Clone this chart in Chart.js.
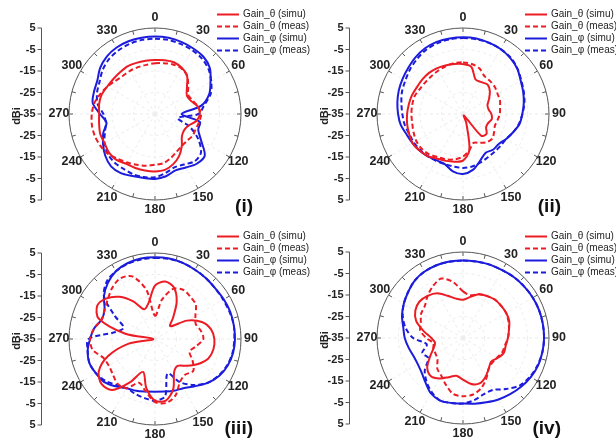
<!DOCTYPE html>
<html>
<head>
<meta charset="utf-8">
<script src="https://cdn.jsdelivr.net/npm/chart.js@4.4.1/dist/chart.umd.min.js"></script>
<style>
  body { margin: 0; background: #fff; }
  #wrap { position: relative; width: 616px; height: 444px; overflow: hidden; }
  canvas { position: absolute; }
</style>
</head>
<body>
<div id="wrap">
  <canvas id="p1" width="316" height="222" style="left:0;top:0"></canvas>
  <canvas id="p2" width="316" height="222" style="left:308px;top:0"></canvas>
  <canvas id="p3" width="316" height="222" style="left:0;top:222px"></canvas>
  <canvas id="p4" width="316" height="222" style="left:308px;top:222px"></canvas>
</div>
<script>
// azimuth samples (deg), clockwise from top
const angles = [0,10,20,30,40,50,60,70,80,90,100,110,120,130,140,150,160,170,
                180,190,200,210,220,230,240,250,260,270,280,290,300,310,320,330,340,350];
const angleLabels = [0,30,60,90,120,150,180,210,240,270,300,330];
const gainMin = -35, gainMax = 5, gainStep = 10;
const seriesNames = ['Gain_θ (simu)', 'Gain_θ (meas)', 'Gain_φ (simu)', 'Gain_φ (meas)'];
const panelTags = ['(i)', '(ii)', '(iii)', '(iv)'];

// (i)
const thetaSimu1 = [-9.9,-9.6,-9.4,-10.2,-11.8,-15.6,-17.9,-17.2,-14.8,-14.1,-15.6,-18.7,-19.5,-18.7,-15.6,-12.5,-10.2,-8.6,
                    -8.3,-8.3,-8.3,-8.3,-7.1,-7.1,-7.9,-7.9,-8.6,-9.0,-8.6,-8.6,-9.4,-9.7,-9.7,-9.4,-9.7,-9.9];
const thetaMeas1 = [-11.4,-11.0,-10.5,-10.5,-11.8,-14.8,-17.2,-16.4,-14.8,-13.6,-14.1,-14.8,-14.8,-15.6,-15.6,-14.8,-13.3,-11.8,
                    -11.4,-10.5,-9.9,-9.0,-7.9,-6.3,-5.6,-5.2,-5.2,-5.6,-6.3,-7.9,-9.4,-11.0,-11.8,-11.8,-11.8,-11.8];
const phiSimu1 = [1.0,1.0,0.7,0.3,-0.1,-1.7,-5.2,-8.2,-13.3,-22.6,-13.8,-13.6,-10.2,-4.8,-4.8,-6.3,-7.1,-5.6,
                  -4.8,-4.8,-4.3,-3.2,-3.2,-4.8,-7.1,-9.4,-12.1,-9.4,-5.6,-4.8,-4.0,-1.7,-0.1,0.7,1.0,1.0];
const phiMeas1 = [0.0,0.0,-0.3,-0.6,-1.2,-2.5,-4.8,-7.4,-11.8,-14.8,-24.2,-17.9,-11.8,-7.1,-6.3,-7.9,-8.6,-7.1,
                  -5.6,-5.2,-5.2,-5.6,-5.6,-6.3,-7.9,-10.2,-11.8,-11.0,-7.9,-6.3,-5.2,-3.2,-1.7,-0.9,-0.3,0.0];

// (ii)
const thetaSimu2 = [-11.8,-12.7,-17.9,-17.9,-17.2,-18.7,-21.0,-22.9,-22.9,-21.8,-21.4,-22.6,-22.6,-20.7,-21.8,-34.2,-30.4,-17.9,
                    -13.3,-12.5,-11.8,-11.0,-9.4,-8.6,-7.9,-8.3,-8.6,-9.0,-9.4,-9.7,-10.2,-10.2,-10.2,-10.5,-11.0,-11.4];
const thetaMeas2 = [-11.0,-11.4,-12.5,-14.8,-15.2,-15.6,-16.4,-16.7,-17.5,-17.9,-18.7,-19.2,-18.3,-17.2,-17.9,-19.5,-20.7,-17.9,
                    -15.2,-13.6,-12.5,-11.8,-10.5,-9.9,-9.9,-10.5,-11.0,-11.0,-11.0,-11.0,-11.8,-12.1,-12.1,-11.8,-11.4,-11.0];
const phiSimu2 = [0.7,0.7,0.3,-0.1,-0.9,-2.1,-4.0,-5.2,-6.3,-7.4,-8.3,-10.2,-11.8,-13.3,-13.3,-14.1,-11.8,-8.6,
                  -7.1,-7.9,-10.2,-10.2,-9.4,-8.6,-7.9,-7.1,-5.6,-4.8,-4.0,-3.2,-2.5,-1.7,-0.6,0.3,0.7,0.7];
const phiMeas2 = [0.3,0.3,0.2,-0.1,-0.6,-2.0,-3.7,-4.9,-6.0,-7.4,-8.6,-10.2,-11.8,-12.1,-12.1,-11.8,-11.0,-10.2,
                  -9.9,-10.2,-10.2,-9.9,-9.4,-9.0,-8.6,-8.3,-7.4,-6.8,-5.9,-4.8,-4.0,-2.8,-1.7,-0.6,0.0,0.3];

// (iii)
const thetaSimu3 = [-10.2,-7.9,-9.4,-14.8,-21.8,-25.7,-17.9,-11.8,-8.6,-7.4,-7.4,-8.6,-11.8,-15.6,-18.7,-17.2,-10.2,-5.9,
                    -6.3,-11.8,-18.7,-11.8,-4.0,-2.5,-4.8,-11.8,-22.6,-34.2,-21.0,-7.1,-4.0,-5.6,-9.4,-14.8,-20.3,-17.9];
const thetaMeas3 = [-24.2,-16.4,-10.2,-8.6,-9.4,-10.2,-13.3,-14.8,-13.3,-12.5,-15.6,-17.9,-14.8,-11.8,-13.3,-11.8,-7.1,-4.8,
                    -5.6,-10.2,-13.3,-8.6,-7.9,-9.4,-10.2,-9.4,-5.6,-4.8,-6.3,-8.6,-7.9,-6.3,-4.0,-2.5,-4.0,-11.8];
const phiSimu3 = [3.0,3.0,2.7,2.2,1.9,1.6,1.9,2.2,2.2,2.2,1.9,1.0,-0.6,-3.2,-6.3,-8.6,-9.4,-10.2,
                  -10.5,-10.2,-9.4,-8.6,-6.3,-4.0,-3.2,-2.5,-3.2,-4.8,-6.3,-8.6,-7.9,-4.0,-0.9,1.4,2.5,3.0];
const phiMeas3 = [2.7,2.8,2.7,2.2,1.9,1.6,1.6,1.9,2.2,1.9,1.6,0.7,-0.9,-3.2,-7.1,-11.8,-17.9,-7.9,
                  -6.3,-7.1,-7.9,-8.6,-7.1,-4.8,-3.2,-2.5,-3.2,-4.0,-16.4,-19.5,-13.3,-4.0,-0.1,1.4,2.2,2.5];

// (iv)
const thetaSimu4 = [-17.2,-15.6,-13.3,-12.5,-11.8,-11.8,-11.8,-12.1,-13.3,-14.1,-14.8,-14.8,-16.4,-17.9,-16.4,-14.1,-12.5,-13.3,
                    -15.6,-17.2,-15.6,-13.3,-11.8,-13.3,-17.2,-20.3,-21.8,-20.3,-16.4,-11.8,-9.4,-8.6,-9.4,-11.0,-14.1,-16.4];
const thetaMeas4 = [-13.3,-14.8,-13.3,-12.5,-11.8,-11.8,-11.8,-12.5,-13.3,-14.1,-15.2,-15.6,-16.7,-17.2,-16.4,-13.3,-10.2,-8.3,
                    -7.9,-8.6,-11.8,-14.8,-16.4,-19.5,-20.3,-20.3,-21.0,-17.9,-14.8,-14.1,-12.5,-11.8,-9.4,-7.1,-5.6,-8.6];
const phiSimu4 = [1.1,1.1,1.3,1.4,1.9,2.2,2.5,2.7,2.7,2.7,2.5,2.2,1.4,0.3,-0.9,-2.0,-3.2,-4.0,
                  -4.5,-4.3,-4.0,-5.2,-7.9,-9.9,-10.7,-10.5,-9.3,-7.9,-6.8,-4.8,-3.2,-1.7,-0.1,0.7,1.0,1.1];
const phiMeas4 = [1.0,1.1,1.3,1.4,1.9,2.2,2.5,2.7,2.7,2.7,2.5,1.9,1.0,-0.6,-4.0,-7.1,-7.1,-5.6,
                  -4.5,-4.3,-4.0,-5.9,-8.6,-11.8,-16.4,-14.8,-17.9,-11.8,-7.9,-5.2,-3.2,-1.7,-0.1,0.7,1.0,1.0];

const RED = '#ec1c24';
const BLUE = '#1c1cdc';
const TEXT = '#222';
const FONT = 'Arial, "Liberation Sans", sans-serif';

// rim ticks, angle numbers, the mirrored dBi axis, legend and panel tag
const polarFrame = {
  id: 'polarFrame',
  afterDraw(chart, args, opts) {
    const ctx = chart.ctx;
    const r = chart.scales.r;
    const R = r.drawingArea;
    const cx = r.xCenter, cy = r.yCenter;
    const step = 360 / angles.length;

    ctx.save();
    ctx.strokeStyle = '#555';
    ctx.lineWidth = 1;
    ctx.setLineDash([]);
    for (let a = 0; a < 360; a += 15) {
      const p1 = r.getPointPosition(a / step, R);
      const p2 = r.getPointPosition(a / step, R - 4);
      ctx.beginPath();
      ctx.moveTo(p1.x, p1.y);
      ctx.lineTo(p2.x, p2.y);
      ctx.stroke();
    }

    ctx.font = 'bold 12.5px ' + FONT;
    ctx.fillStyle = TEXT;
    ctx.textAlign = 'center';
    ctx.textBaseline = 'middle';
    angleLabels.forEach(a => {
      const p = r.getPointPosition(a / step, R + 10);
      ctx.fillText(String(a), p.x, p.y);
    });

    // gain axis on the left: centre value in the middle, rim value at both ends
    const ax = cx - 113.5;
    ctx.beginPath();
    ctx.moveTo(ax, cy - R);
    ctx.lineTo(ax, cy + R);
    ctx.stroke();
    ctx.font = 'bold 11px ' + FONT;
    ctx.textAlign = 'right';
    r.ticks.forEach(t => {
      const d = r.getDistanceFromCenterForValue(t.value);
      const ys = d === 0 ? [cy] : [cy - d, cy + d];
      ys.forEach(y => {
        ctx.beginPath();
        ctx.moveTo(ax - 4, y);
        ctx.lineTo(ax, y);
        ctx.stroke();
        ctx.fillText(String(t.value), ax - 6, y);
      });
    });
    ctx.save();
    ctx.translate(ax - 25, cy + 2);
    ctx.rotate(-Math.PI / 2);
    ctx.textAlign = 'center';
    ctx.fillText('dBi', 0, 0);
    ctx.restore();

    // legend
    ctx.font = '10px ' + FONT;
    ctx.textAlign = 'left';
    chart.data.datasets.forEach((ds, i) => {
      const y = 14.5 + i * 12;
      ctx.strokeStyle = ds.borderColor;
      ctx.lineWidth = 2;
      ctx.setLineDash(ds.borderDash || []);
      ctx.beginPath();
      ctx.moveTo(217, y);
      ctx.lineTo(239, y);
      ctx.stroke();
      ctx.fillStyle = TEXT;
      ctx.fillText(ds.label, 243, y);
    });

    ctx.setLineDash([]);
    ctx.font = 'bold 19px ' + FONT;
    ctx.textAlign = 'right';
    ctx.fillStyle = '#111';
    ctx.fillText(opts.tag, 253, opts.tagY);
    ctx.restore();
  }
};

function makePanel(id, tag, data, top) {
  const styles = [
    { color: RED, dash: [] },
    { color: RED, dash: [5, 3] },
    { color: BLUE, dash: [] },
    { color: BLUE, dash: [5, 3] }
  ];
  return new Chart(document.getElementById(id), {
    type: 'radar',
    data: {
      labels: angles,
      datasets: data.map((vals, i) => ({
        label: seriesNames[i],
        data: vals,
        borderColor: styles[i].color,
        borderDash: styles[i].dash,
        borderWidth: 2,
        fill: false,
        pointRadius: 0,
        tension: 0.3
      }))
    },
    options: {
      responsive: false,
      animation: false,
      events: [],
      layout: { padding: { left: 69, right: 75, top: top, bottom: 222 - 172 - top } },
      plugins: {
        legend: { display: false },
        tooltip: { enabled: false },
        polarFrame: { tag: tag, tagY: 207 }
      },
      scales: {
        r: {
          min: gainMin,
          max: gainMax,
          ticks: { display: false, stepSize: gainStep },
          pointLabels: { display: false },
          grid: {
            circular: true,
            color: c => c.tick.value === gainMax ? '#555' : '#ececec',
            lineWidth: 1
          },
          border: { dash: c => c.tick.value === gainMax ? [] : [3, 3] },
          angleLines: {
            display: true,
            color: c => c.index % 3 === 0 ? '#ececec' : 'rgba(0,0,0,0)',
            lineWidth: c => c.index % 3 === 0 ? 1 : 0,
            borderDash: [3, 3]
          }
        }
      }
    },
    plugins: [polarFrame]
  });
}

makePanel('p1', panelTags[0], [thetaSimu1, thetaMeas1, phiSimu1, phiMeas1], 28);
makePanel('p2', panelTags[1], [thetaSimu2, thetaMeas2, phiSimu2, phiMeas2], 28);
makePanel('p3', panelTags[2], [thetaSimu3, thetaMeas3, phiSimu3, phiMeas3], 31);
makePanel('p4', panelTags[3], [thetaSimu4, thetaMeas4, phiSimu4, phiMeas4], 30);
</script>
</body>
</html>
